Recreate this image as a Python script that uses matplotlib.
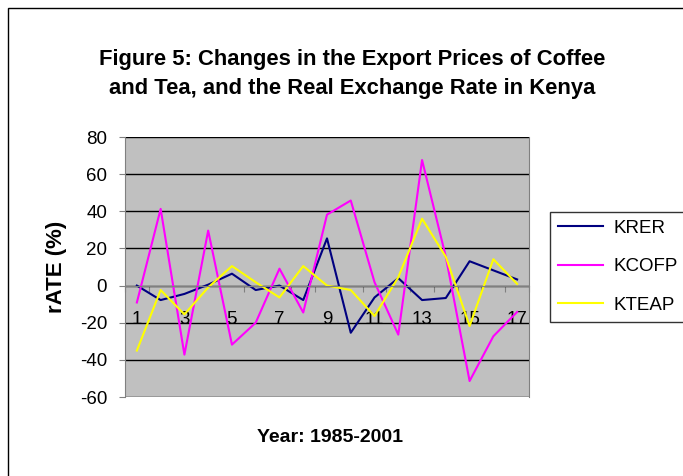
import matplotlib
matplotlib.use('Agg')
import matplotlib.pyplot as plt
from matplotlib.patches import Rectangle

plt.rcParams['font.family'] = ['Liberation Sans', 'DejaVu Sans']

years = list(range(1, 18))
krer = [0, -7.8, -4.5, 0.5, 6.4, -2.4, 0, -7.8, 25.4, -25.4, -6.4, 4, -7.8, -6.7, 13.1, 8.2, 3.3]
kcofp = [-9.1, 41.3, -37.2, 29.6, -31.8, -20, 9.1, -14.5, 38.2, 45.8, 1.8, -26.4, 67.6, 15.5, -51.4, -27.3, -14.2]
kteap = [-35, -2.4, -15.5, -1, 10.5, 1.8, -6.4, 10.5, 0, -2.4, -16.4, 4.5, 36, 15.5, -21.8, 14.2, 0.9]
yticks = list(range(-60, 81, 20))

fig = plt.figure(figsize=(6.83, 4.76), dpi=100)
# chart area border (runs off the right and bottom edges)
fig.patches.append(Rectangle((8 / 683, -0.01), 1.0, 1 - 8 / 476 + 0.01, transform=fig.transFigure,
                             fill=False, edgecolor='black', linewidth=1))

ax = fig.add_axes([125 / 683, 1 - 397 / 476, 404 / 683, 260 / 476])
ax.set_facecolor('#C0C0C0')

x = list(range(len(years)))
ax.plot(x, krer, color='#000080', lw=1.5, label='KRER')
ax.plot(x, kcofp, color='#FF00FF', lw=1.5, label='KCOFP')
ax.plot(x, kteap, color='#FFFF00', lw=1.5, label='KTEAP')

ax.set_ylim(-60, 80)
ax.set_xlim(-0.5, len(years) - 0.5)
ax.set_yticks(yticks)
ax.set_yticklabels([str(v) for v in yticks], fontsize=13.5)
ax.yaxis.grid(True, color='black', lw=1)
ax.set_axisbelow(True)

ax.spines['bottom'].set_position(('data', 0))
ax.spines['bottom'].set_color('#808080')
ax.spines['top'].set_visible(False)
ax.spines['right'].set_color('#808080')
ax.spines['left'].set_color('#808080')

ax.set_xticks([i - 0.5 for i in range(len(years) + 1)])
ax.set_xticklabels([])
ax.tick_params(axis='x', which='major', direction='out', length=4, color='#808080')
ax.set_xticks(x[::2], minor=True)
ax.set_xticklabels([str(y) for y in years[::2]], minor=True, fontsize=13.5)
ax.tick_params(axis='x', which='minor', length=0, pad=18)
ax.tick_params(axis='y', direction='out', length=4.3, color='#808080', pad=8.5)

ax.set_ylabel('rATE (%)', fontsize=16, fontweight='bold', labelpad=9)
fig.text(330 / 683, 1 - 438 / 476, 'Year: 1985-2001', ha='center', va='center',
         fontsize=14, fontweight='bold')
fig.text(352 / 683, 1 - 74 / 476, 'Figure 5: Changes in the Export Prices of Coffee\nand Tea, and the Real Exchange Rate in Kenya',
         ha='center', va='center', fontsize=15.8, fontweight='bold', linespacing=1.55)

leg = fig.legend(loc='upper left', bbox_to_anchor=(550 / 683, 1 - 212 / 476), fontsize=13.5,
                 frameon=True, fancybox=False, edgecolor='black', handlelength=2.4,
                 handletextpad=0.6, labelspacing=1.15, borderaxespad=0)
leg.get_frame().set_linewidth(1)

fig.savefig('out.png', dpi=100)
